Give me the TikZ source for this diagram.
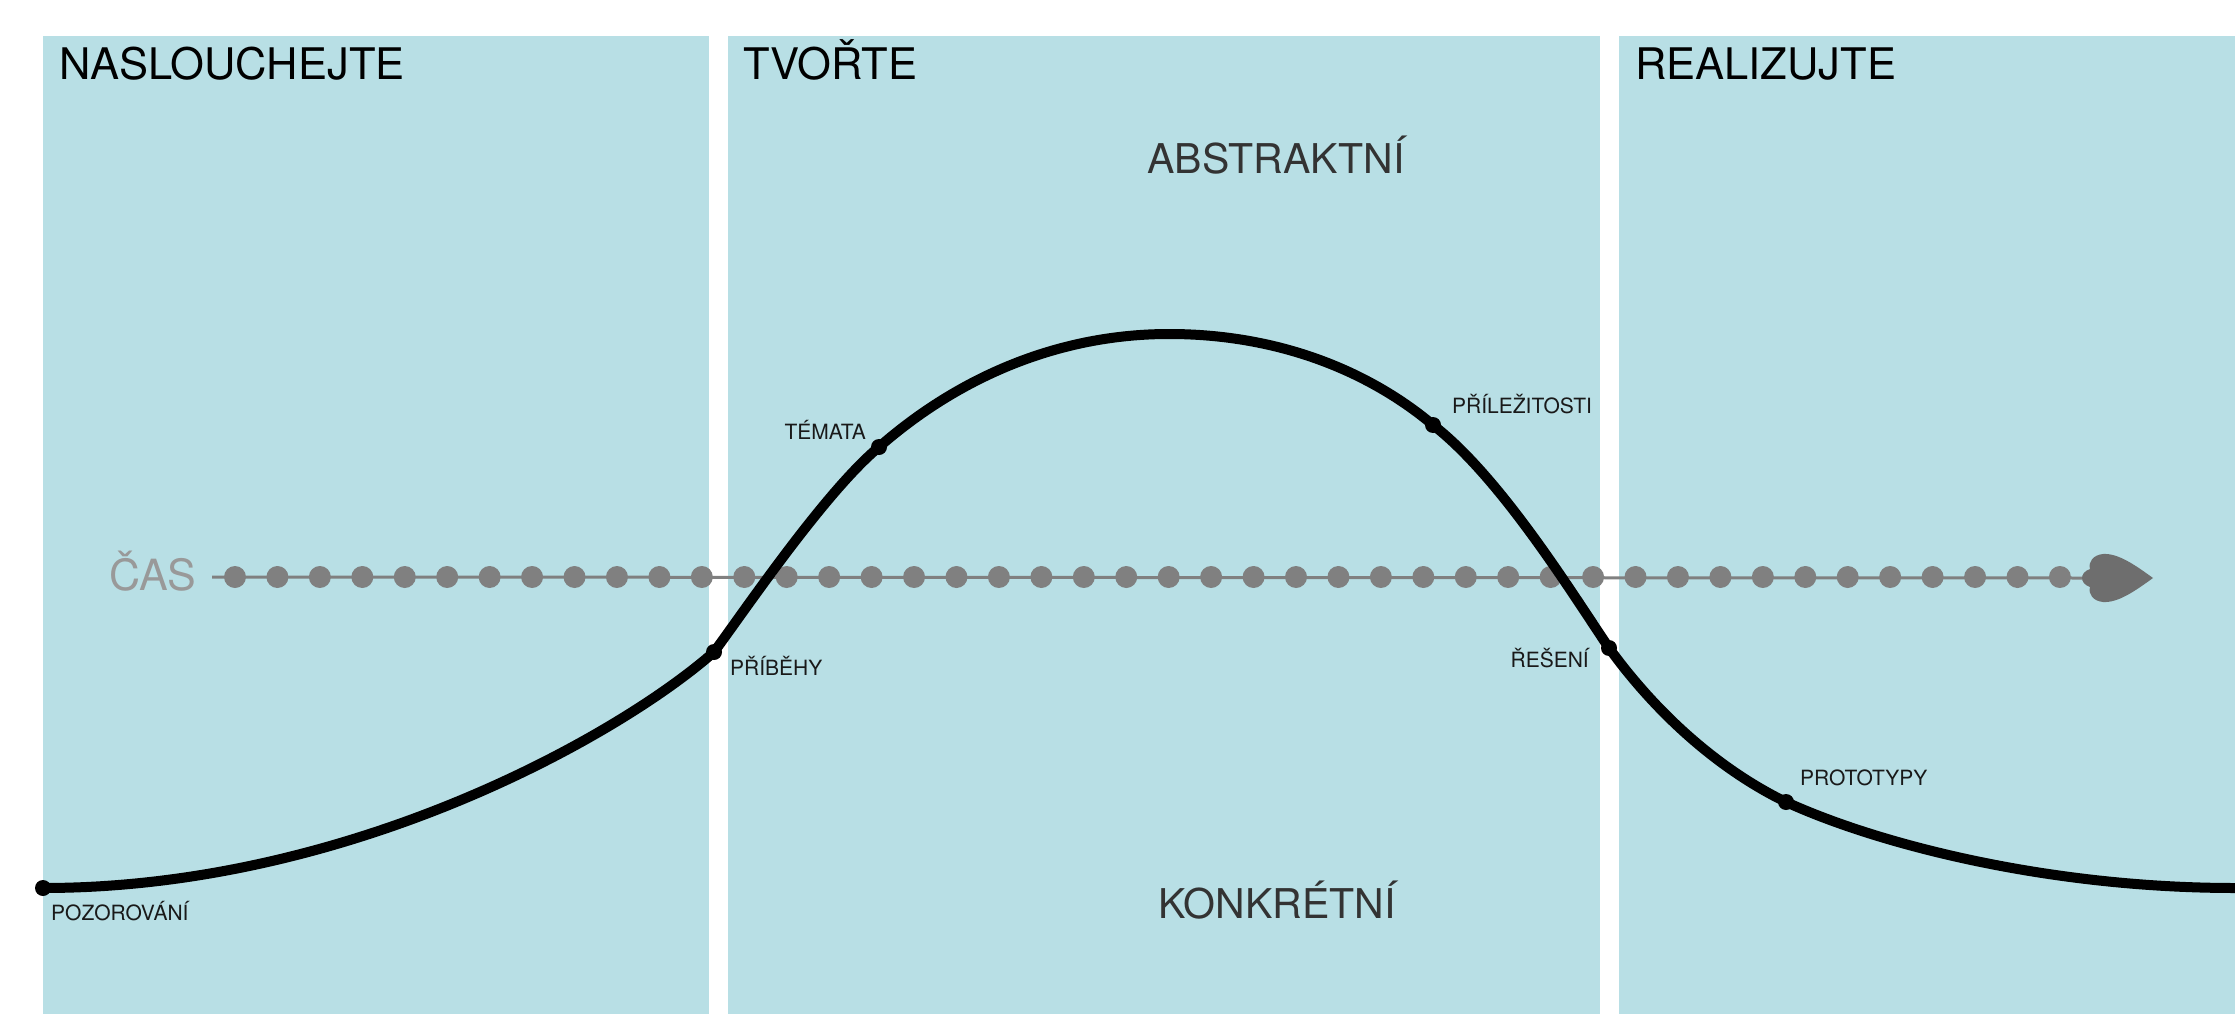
\documentclass[tikz,border=0pt]{standalone}
\usepackage{fontspec}
\setmainfont{TeX Gyre Heros}
\definecolor{panel}{HTML}{B8DFE5}
\definecolor{tecky}{HTML}{808080}
\definecolor{hrot}{HTML}{6E6E6E}
\newcommand\nadpisy{\fontsize{43.5}{50}\selectfont}
\newcommand\velke{\fontsize{41}{48}\selectfont}
\newcommand\male{\fontsize{21}{25}\selectfont}

\begin{document}
\begin{tikzpicture}[x=1pt, y=-1pt,
  pole/.style={fill=panel},
  nadpis/.style={anchor=base west, inner sep=0pt, font=\nadpisy},
  popis/.style={inner sep=0pt, font=\male, text=black!90},
  osa/.style={inner sep=0pt, font=\velke, text=black!80},
  tecka/.style={fill=tecky},
  bod/.style={fill=black},
  krivka/.style={line width=10pt}]
\useasboundingbox (0,0) rectangle (2235,1014);
\fill[pole] (43,36) rectangle (709,1014);
\fill[pole] (728,36) rectangle (1600,1014);
\fill[pole] (1619,36) rectangle (2235,1014);
\node[nadpis] (naslouchejte) at (59,80) {NASLOUCHEJTE};
\node[nadpis] (tvorte) at (743,80) {TVOŘTE};
\node[nadpis] (realizujte) at (1635,80) {REALIZUJTE};
\node[osa, anchor=base] (abstraktni) at (1276,173) {ABSTRAKTNÍ};
\node[osa, anchor=base] (konkretni) at (1277,918) {KONKRÉTNÍ};
\node[nadpis, font=\fontsize{43}{50}\selectfont, text=black!40] (cas) at (109,590) {ČAS};
\coordinate (casstart) at (212,577);
\coordinate (hrotzadek) at (2082,578);
\draw[tecky, line width=3pt] (casstart) -- (hrotzadek);
\foreach \i in {0,...,43}
  \fill[tecka] (235+\i*42.44,577) circle[radius=11pt];
\fill[hrot] (2153,578) .. controls (2135,565) and (2118,553) .. (2103,554)
  .. controls (2093,555) and (2088,562) .. (2090,569)
  .. controls (2084,571) and (2082,575) .. (hrotzadek)
  .. controls (2082,581) and (2084,585) .. (2090,587)
  .. controls (2088,594) and (2093,601) .. (2103,602)
  .. controls (2118,603) and (2135,591) .. cycle;
\coordinate (pozorovani) at (43,888);
\coordinate (pribehy) at (714,652);
\coordinate (temata) at (879,447);
\coordinate (vrchol) at (1169,334);
\coordinate (prilezitosti) at (1433,425);
\coordinate (reseni) at (1609,648);
\coordinate (prototypy) at (1786,802);
\coordinate (konec) at (2235,888);
\draw[krivka] (pozorovani) .. controls (350,888) and (620,735) .. (pribehy)
  .. controls (745,610) and (825,492) .. (temata)
  .. controls (960,376) and (1060,334) .. (vrchol)
  .. controls (1280,334) and (1370,372) .. (prilezitosti)
  .. controls (1500,477) and (1570,590) .. (reseni)
  .. controls (1665,725) and (1730,775) .. (prototypy)
  .. controls (1880,845) and (2050,888) .. (konec);
\foreach \b in {pozorovani,pribehy,temata,prilezitosti,reseni,prototypy}
  \fill[bod] (\b) circle[radius=8pt];
\node[popis, anchor=base west] (lpozorovani) at (51,920) {POZOROVÁNÍ};
\node[popis, anchor=base west] (lpribehy) at (730,675) {PŘÍBĚHY};
\node[popis, anchor=base east] (ltemata) at (866,439) {TÉMATA};
\node[popis, anchor=base west] (lprilezitosti) at (1452,413) {PŘÍLEŽITOSTI};
\node[popis, anchor=base east] (lreseni) at (1589,667) {ŘEŠENÍ};
\node[popis, anchor=base west] (lprototypy) at (1800,785) {PROTOTYPY};
\end{tikzpicture}
\end{document}
